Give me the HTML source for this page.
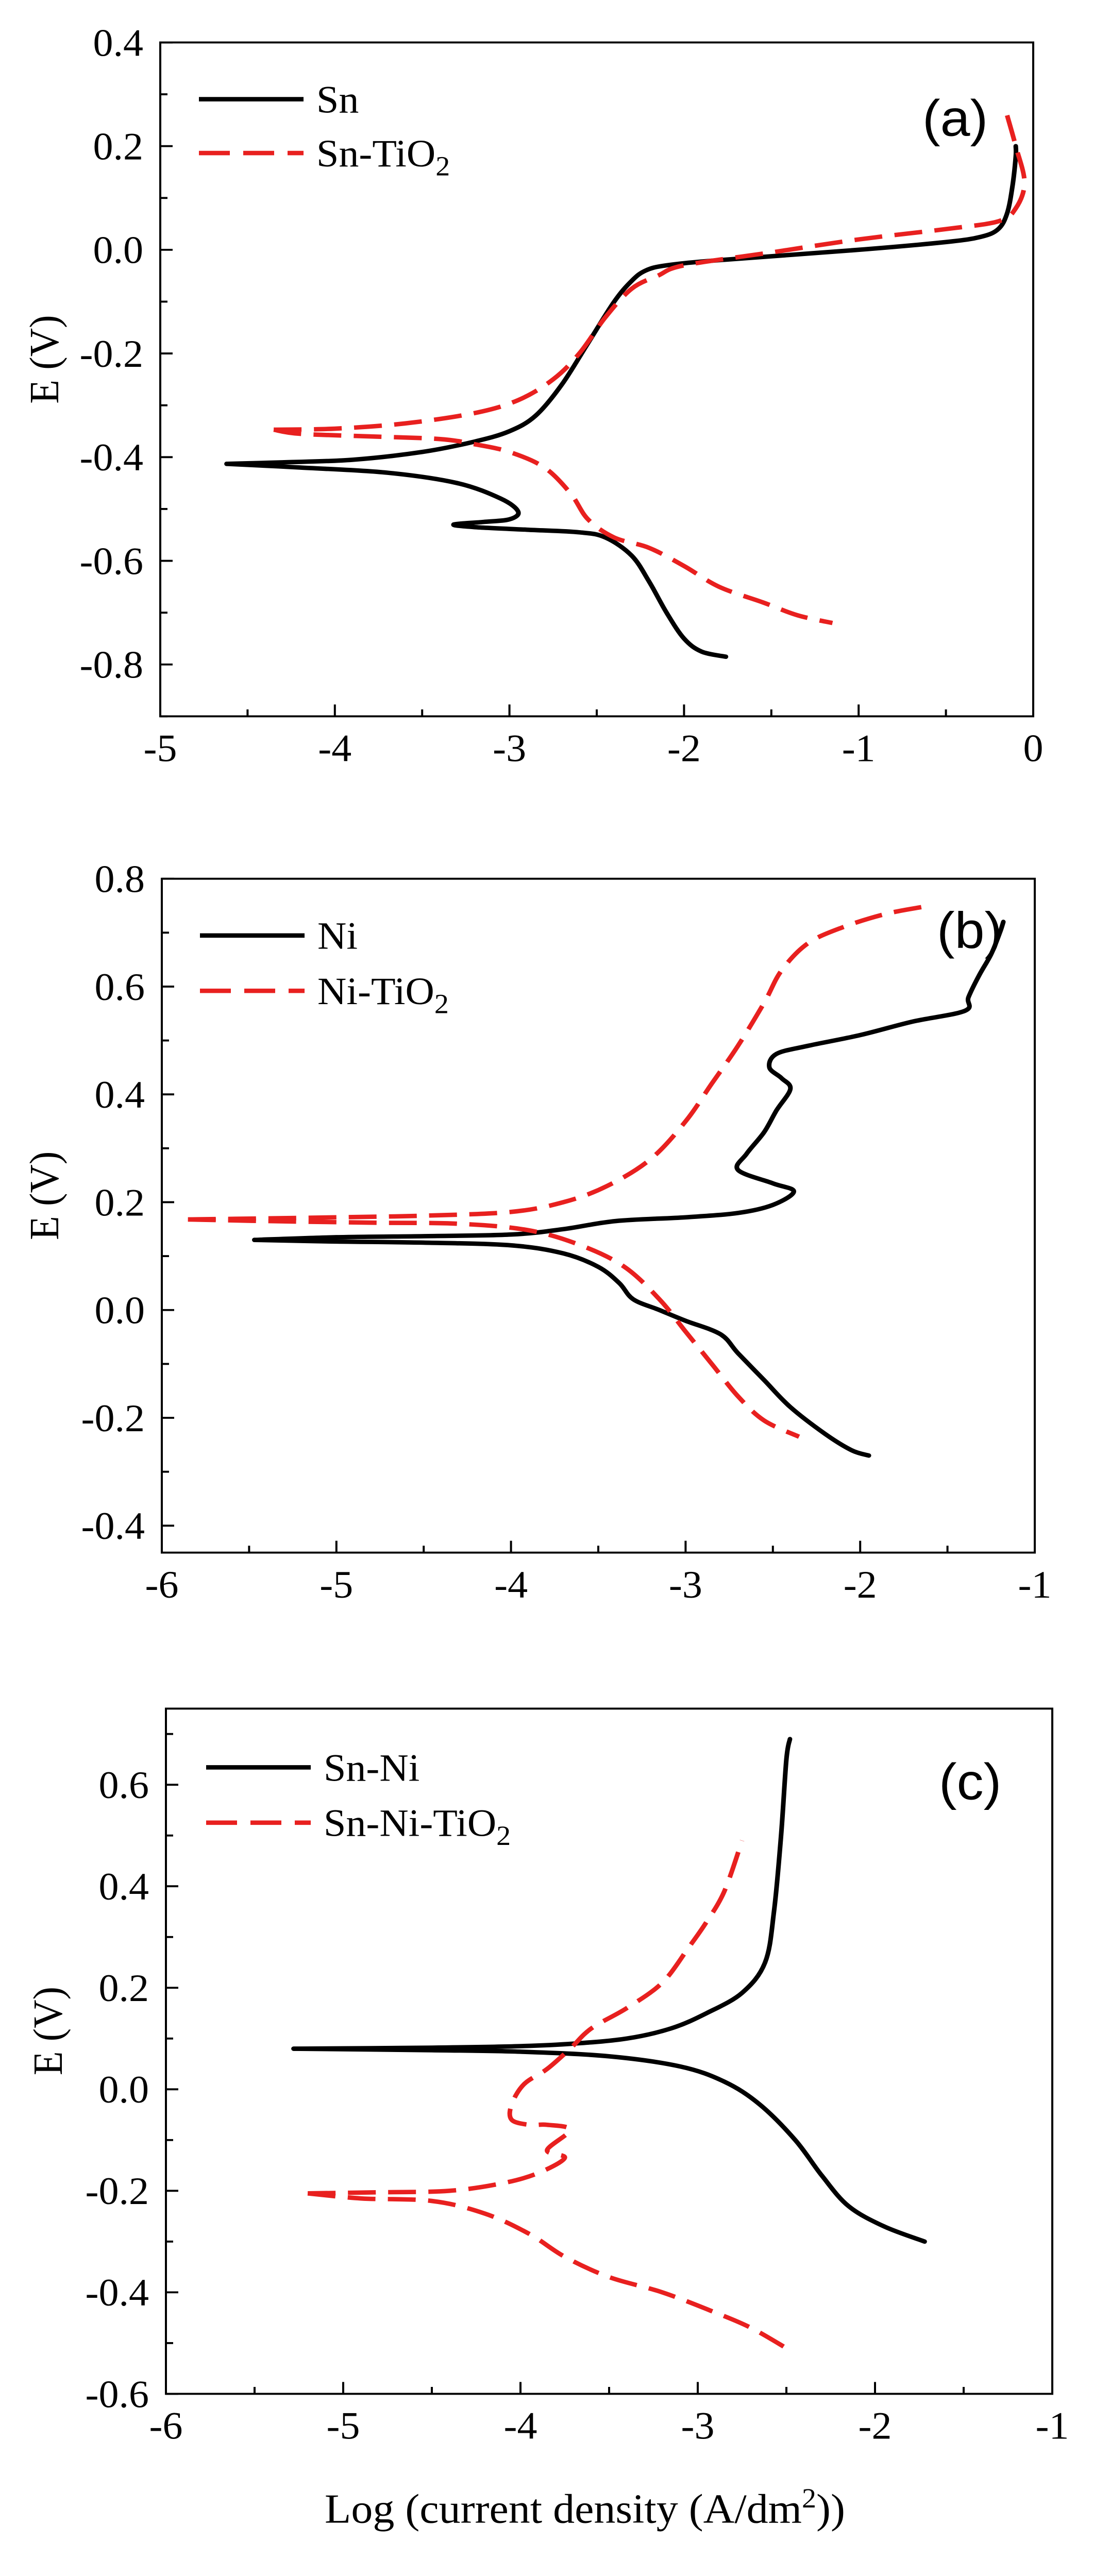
<!DOCTYPE html>
<html><head><meta charset="utf-8"><style>
html,body{margin:0;padding:0;background:#fff;overflow:hidden;}
svg{display:block;position:fixed;left:0;top:0;width:100vw;height:100vh;}
text{font-family:"Liberation Serif",serif;fill:#000;}
.lab{font-family:"Liberation Sans",sans-serif;}
</style></head><body>
<svg id="fig" viewBox="0 0 2121 5218" preserveAspectRatio="none" xmlns="http://www.w3.org/2000/svg"></svg>
<script>
// Panel (a) data
const snAnodicX=[-4.62,-4.3,-3.9,-3.5,-3.2,-3,-2.85,-2.7,-2.55,-2.4,-2.3,-2.22,-2.1,-1.8,-1,-0.5,-0.3,-0.2,-0.15,-0.12,-0.1,-0.1];
const snAnodicY=[-0.413,-0.41,-0.405,-0.39,-0.37,-0.35,-0.32,-0.26,-0.18,-0.1,-0.06,-0.04,-0.03,-0.02,0,0.015,0.025,0.04,0.07,0.12,0.18,0.2];
const snCathX=[-4.62,-4.2,-3.7,-3.3,-3.05,-2.95,-3.0,-3.15,-3.32,-3.2,-2.9,-2.6,-2.45,-2.3,-2.2,-2.1,-2.0,-1.9,-1.76];
const snCathY=[-0.413,-0.42,-0.43,-0.45,-0.48,-0.505,-0.52,-0.525,-0.53,-0.535,-0.54,-0.545,-0.555,-0.59,-0.64,-0.7,-0.75,-0.775,-0.785];
const snTiAnodicX=[-4.35,-4.0,-3.6,-3.2,-2.95,-2.75,-2.6,-2.45,-2.3,-2.15,-2.0,-1.5,-1,-0.5,-0.2,-0.1,-0.05,-0.1,-0.15];
const snTiAnodicY=[-0.347,-0.345,-0.335,-0.315,-0.29,-0.25,-0.2,-0.13,-0.075,-0.05,-0.03,-0.005,0.02,0.04,0.055,0.08,0.13,0.2,0.26];
const snTiCathX=[-4.35,-4.2,-3.8,-3.4,-3.2,-3.0,-2.8,-2.65,-2.55,-2.4,-2.2,-2.0,-1.8,-1.55,-1.35,-1.15];
const snTiCathY=[-0.347,-0.355,-0.36,-0.365,-0.375,-0.39,-0.42,-0.47,-0.52,-0.555,-0.575,-0.61,-0.65,-0.68,-0.705,-0.72];
// Panel (b) data
const niAnodicX=[-5.47,-5,-4.5,-4,-3.7,-3.4,-3,-2.7,-2.5,-2.38,-2.5,-2.7,-2.65,-2.55,-2.48,-2.4,-2.45,-2.52,-2.48,-2.3,-2.0,-1.7,-1.4,-1.38,-1.32,-1.25,-1.2,-1.18];
const niAnodicY=[0.13,0.135,0.137,0.14,0.15,0.165,0.172,0.18,0.195,0.22,0.235,0.26,0.29,0.33,0.37,0.41,0.43,0.45,0.475,0.49,0.51,0.535,0.555,0.58,0.62,0.66,0.7,0.72];
const niCathX=[-5.47,-5,-4.5,-4,-3.7,-3.5,-3.38,-3.3,-3.15,-3,-2.8,-2.7,-2.55,-2.4,-2.2,-2.05,-1.95];
const niCathY=[0.13,0.127,0.125,0.12,0.105,0.08,0.05,0.02,0.0,-0.02,-0.045,-0.08,-0.13,-0.18,-0.23,-0.26,-0.27];
const niTiAnodicX=[-5.85,-5.4,-5,-4.5,-4,-3.7,-3.45,-3.2,-3.0,-2.85,-2.7,-2.55,-2.45,-2.3,-2.1,-1.85,-1.6];
const niTiAnodicY=[0.168,0.17,0.172,0.175,0.182,0.2,0.23,0.28,0.35,0.42,0.49,0.57,0.63,0.68,0.71,0.735,0.75];
const niTiCathX=[-5.85,-5.4,-4.8,-4.3,-3.9,-3.6,-3.35,-3.15,-3.0,-2.85,-2.7,-2.55,-2.35];
const niTiCathY=[0.168,0.165,0.162,0.16,0.148,0.12,0.08,0.02,-0.04,-0.1,-0.16,-0.205,-0.235];
// Panel (c) data
const snNiAnodicX=[-5.28,-4.5,-4,-3.7,-3.4,-3.15,-2.95,-2.75,-2.62,-2.57,-2.53,-2.5,-2.48];
const snNiAnodicY=[0.08,0.082,0.085,0.09,0.1,0.12,0.15,0.19,0.25,0.35,0.5,0.65,0.69];
const snNiCathX=[-5.28,-4.5,-4,-3.5,-3.1,-2.85,-2.65,-2.45,-2.3,-2.15,-1.95,-1.72];
const snNiCathY=[0.08,0.077,0.074,0.065,0.045,0.015,-0.03,-0.1,-0.17,-0.23,-0.27,-0.3];
const snNiTiAnodicX=[-5.2,-4.8,-4.4,-4.1,-3.9,-3.75,-3.85,-3.72,-3.85,-3.95,-4.05,-4.05,-3.98,-3.85,-3.72,-3.6,-3.4,-3.2,-3.05,-2.95,-2.85,-2.75];
const snNiTiAnodicY=[-0.205,-0.203,-0.2,-0.185,-0.165,-0.135,-0.12,-0.08,-0.07,-0.07,-0.06,-0.03,0.01,0.04,0.08,0.12,0.16,0.21,0.28,0.33,0.39,0.49];
const snNiTiCathX=[-5.2,-4.9,-4.5,-4.2,-3.95,-3.75,-3.5,-3.2,-2.9,-2.7,-2.5];
const snNiTiCathY=[-0.205,-0.215,-0.22,-0.245,-0.285,-0.33,-0.37,-0.4,-0.44,-0.47,-0.51];

const xTicksA=[-5,-4,-3,-2,-1,0];
const yTicksA=[0.4,0.2,0.0,-0.2,-0.4,-0.6,-0.8];
const xTicksB=[-6,-5,-4,-3,-2,-1];
const yTicksB=[0.8,0.6,0.4,0.2,0.0,-0.2,-0.4];
const xTicksC=[-6,-5,-4,-3,-2,-1];
const yTicksC=[0.6,0.4,0.2,0.0,-0.2,-0.4,-0.6];

const NS='http://www.w3.org/2000/svg';
const svg=document.getElementById('fig');
function mk(tag,attrs,parent){const e=document.createElementNS(NS,tag);for(const k in attrs)e.setAttribute(k,attrs[k]);(parent||svg).appendChild(e);return e;}
function smoothPath(P){
  let d='M'+P[0][0].toFixed(1)+','+P[0][1].toFixed(1);
  for(let i=0;i<P.length-1;i++){
    const p0=P[i-1]||P[i],p1=P[i],p2=P[i+1],p3=P[i+2]||P[i+1];
    const c1=[p1[0]+(p2[0]-p0[0])/6,p1[1]+(p2[1]-p0[1])/6];
    const c2=[p2[0]-(p3[0]-p1[0])/6,p2[1]-(p3[1]-p1[1])/6];
    d+=' C'+c1[0].toFixed(1)+','+c1[1].toFixed(1)+' '+c2[0].toFixed(1)+','+c2[1].toFixed(1)+' '+p2[0].toFixed(1)+','+p2[1].toFixed(1);
  }
  return d;
}

function panel(p){
  const g=mk('g',{});
  
  
  const sx=v=>p.L+(v-p.x0)/(p.x1-p.x0)*(p.R-p.L);
  const sy=v=>p.T+(p.y1-v)/(p.y1-p.y0)*(p.B-p.T);
  p.xt.forEach((v,i)=>{
    const X=sx(v);
    const t=mk('line',{x1:X,x2:X,y1:p.B,y2:p.B-24,stroke:'#000','stroke-width':4},g);
    
    
    if(i<p.xt.length-1){const m=sx(v+(p.xt[1]-p.xt[0])/2);
      const mt=mk('line',{x1:m,x2:m,y1:p.B,y2:p.B-14,stroke:'#000','stroke-width':4},g);
      
      }
    const tl=mk('text',{x:X,y:p.B+91,'font-size':78,'text-anchor':'middle'},g);
    tl.textContent=String(v);
    
    
  });
  const step=p.yt[0]-p.yt[1];
  p.yt.forEach(v=>{
    const Y=sy(v);
    const t=mk('line',{x1:p.L,x2:p.L+24,y1:Y,y2:Y,stroke:'#000','stroke-width':4},g);
    
    
    const tl=mk('text',{x:p.L-33,y:Y+27,'font-size':78,'text-anchor':'end'},g);
    tl.textContent=v.toFixed(1);
    
    
  });
  for(let v=p.yt[0]+step/2;v>p.y0-1e-9;v-=step){
    if(v>p.y1+1e-9)continue;
    const Y=sy(v);
    const mt=mk('line',{x1:p.L,x2:p.L+14,y1:Y,y2:Y,stroke:'#000','stroke-width':4},g);
    
    
  }
  p.series.forEach(s=>{
    const P=s.x.map((v,i)=>[sx(v),sy(s.y[i])]);
    const pl=mk('path',{d:smoothPath(P),fill:'none',stroke:s.red?'#e8201f':'#000','stroke-width':9,'stroke-linejoin':'round','stroke-linecap':s.red?'butt':'round','stroke-dasharray':s.red?'54 24':'none'},g);
    
    
  });
  const fr=mk('rect',{x:p.L,y:p.T,width:p.R-p.L,height:p.B-p.T,fill:'none',stroke:'#000','stroke-width':4},g);
  
  
  const yl=mk('text',{x:0,y:0,'font-size':80,'text-anchor':'middle',transform:'translate('+(p.yLabX)+','+p.yLabY+') rotate(-90)'},g);
  yl.textContent='E (V)';
  
  
  p.legend.forEach((l,i)=>{
    const Y=p.legY[i];
    const ln=mk('line',{x1:p.legX,x2:p.legX+203,y1:Y,y2:Y,stroke:l.red?'#e8201f':'#000','stroke-width':9,'stroke-dasharray':l.red?'60 26':'none'},g);
    
    
    const tx=mk('text',{x:p.legX+228,y:Y+27,'font-size':78},g);
    tx.innerHTML=l.html;
    
    
  });
  const pl=mk('text',{x:p.tagX,y:p.tagY,'font-size':104,'class':'lab'},g);
  pl.textContent=p.tag;
  
  
}
const sub='<tspan baseline-shift="-18" font-size="56">2</tspan>';
panel({id:'a',L:311,R:2005,T:86,B:1451,x0:-5,x1:0,y0:-0.9,y1:0.4,xt:xTicksA,yt:yTicksA,yLabX:113,yLabY:728,
  legX:386,legY:[201,310],legend:[{html:'Sn'},{html:'Sn-TiO'+sub,red:true}],tag:'(a)',tagX:1790,tagY:275,
  series:[{x:snAnodicX,y:snAnodicY,name:'sn-anodic'},{x:snCathX,y:snCathY,name:'sn-cathodic'},
          {x:snTiAnodicX,y:snTiAnodicY,red:true,name:'sn-tio2-anodic'},{x:snTiCathX,y:snTiCathY,red:true,name:'sn-tio2-cathodic'}]});
panel({id:'b',L:314,R:2008,T:1780,B:3145,x0:-6,x1:-1,y0:-0.45,y1:0.8,xt:xTicksB,yt:yTicksB,yLabX:113,yLabY:2422,
  legX:388,legY:[1895,2007],legend:[{html:'Ni'},{html:'Ni-TiO'+sub,red:true}],tag:'(b)',tagX:1818,tagY:1920,
  series:[{x:niAnodicX,y:niAnodicY,name:'ni-anodic'},{x:niCathX,y:niCathY,name:'ni-cathodic'},
          {x:niTiAnodicX,y:niTiAnodicY,red:true,name:'ni-tio2-anodic'},{x:niTiCathX,y:niTiCathY,red:true,name:'ni-tio2-cathodic'}]});
panel({id:'c',L:322,R:2042,T:3461,B:4849,x0:-6,x1:-1,y0:-0.6,y1:0.75,xt:xTicksC,yt:yTicksC,yLabX:120,yLabY:4114,
  legX:400,legY:[3580,3692],legend:[{html:'Sn-Ni'},{html:'Sn-Ni-TiO'+sub,red:true}],tag:'(c)',tagX:1822,tagY:3645,
  series:[{x:snNiAnodicX,y:snNiAnodicY,name:'sn-ni-anodic'},{x:snNiCathX,y:snNiCathY,name:'sn-ni-cathodic'},
          {x:snNiTiAnodicX,y:snNiTiAnodicY,red:true,name:'sn-ni-tio2-anodic'},{x:snNiTiCathX,y:snNiTiCathY,red:true,name:'sn-ni-tio2-cathodic'}]});
const xl=mk('text',{x:1135,y:5110,'font-size':84,'text-anchor':'middle'});
xl.innerHTML='Log (current density (A/dm<tspan baseline-shift="super" font-size="56">2</tspan>))';


</script>
</body></html>
